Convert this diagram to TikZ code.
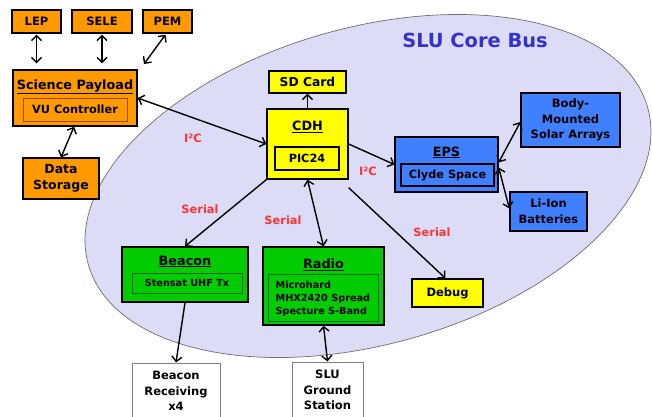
\documentclass[tikz,border=0pt]{standalone}
\usepackage{fontspec}
\setmainfont{DejaVu Sans}
\usetikzlibrary{arrows.meta}
\definecolor{borange}{RGB}{255,153,0}
\definecolor{oranged}{RGB}{150,75,0}
\definecolor{byellow}{RGB}{255,255,0}
\definecolor{bblue}{RGB}{64,128,255}
\definecolor{bgreen}{RGB}{0,204,0}
\definecolor{greend}{RGB}{0,100,0}
\definecolor{busfill}{RGB}{220,220,246}
\definecolor{busline}{RGB}{110,110,110}
\definecolor{lred}{RGB}{255,51,51}
\definecolor{tblue}{RGB}{51,51,204}
\definecolor{gbox}{RGB}{128,128,128}
\begin{document}
\begin{tikzpicture}[x=1bp,y=-1bp,
  box/.style={draw=black, line width=1.3bp, inner sep=0pt, align=center,
    font=\bfseries\fontsize{11.5bp}{15.7bp}\selectfont},
  obox/.style={box, fill=borange},
  ybox/.style={box, fill=byellow},
  bbox/.style={box, fill=bblue},
  gnbox/.style={box, fill=bgreen},
  wbox/.style={box, fill=white, draw=gbox, line width=1bp},
  ttl/.style={inner sep=0pt, anchor=base, font=\bfseries\fontsize{12.8bp}{15bp}\selectfont},
  ibox/.style={draw=black, line width=1.3bp, inner sep=0pt, align=center,
    font=\bfseries\fontsize{11.3bp}{14bp}\selectfont},
  sbox/.style={draw=greend, line width=0.8bp, inner sep=0pt, align=center,
    font=\bfseries\fontsize{9.7bp}{13bp}\selectfont},
  lbl/.style={inner sep=0pt, text=lred, font=\bfseries\fontsize{11.4bp}{13bp}\selectfont},
  conn/.style={line width=1.4bp, -{Straight Barb[length=5bp,width=10bp]}},
  biconn/.style={line width=1.4bp, {Straight Barb[length=5bp,width=10bp]}-{Straight Barb[length=5bp,width=10bp]}}
]
\useasboundingbox (0,0) rectangle (652,416);
\clip (0,0) rectangle (652,416);

% core bus ellipse
\draw[fill=busfill, draw=busline, line width=0.7bp, rotate around={15.65:(368,186)}]
  (368,186) ellipse [x radius=290.5, y radius=158.4];
\node[inner sep=0pt, text=tblue, font=\bfseries\fontsize{19.4bp}{22bp}\selectfont] (bus) at (475,40) {SLU Core Bus};

% payload side
\node[obox, minimum width=49bp, minimum height=23bp] (lep) at (36.5,21.5) {LEP};
\node[obox, minimum width=60bp, minimum height=23bp] (sele) at (102,21.5) {SELE};
\node[obox, minimum width=49bp, minimum height=23bp] (pem) at (167.5,21.5) {PEM};
\node[obox, minimum width=124bp, minimum height=56bp] (sci) at (75,98) {};
\node[ttl] (scit) at (75,89) {\underline{Science Payload}};
\node[ibox, draw=oranged, line width=0.8bp, minimum width=104bp, minimum height=23bp] (vu) at (75,109.5) {VU Controller};
\node[obox, minimum width=76bp, minimum height=41bp, font=\bfseries\fontsize{12.5bp}{16.5bp}\selectfont] (ds) at (61,178.5) {Data\\Storage};

% CDH
\node[ybox, minimum width=77bp, minimum height=22bp, font=\bfseries\fontsize{12.3bp}{15bp}\selectfont] (sd) at (307.5,82) {SD Card};
\node[ybox, minimum width=81bp, minimum height=70bp] (cdh) at (307.5,144) {};
\node[ttl] (cdht) at (307.5,130.7) {\underline{CDH}};
\node[ibox, minimum width=64bp, minimum height=23bp] (pic) at (307,158.5) {PIC24};

% EPS
\node[bbox, minimum width=103bp, minimum height=55bp] (eps) at (446.5,164.5) {};
\node[ttl] (epst) at (446.5,156) {\underline{EPS}};
\node[ibox, minimum width=93bp, minimum height=22bp] (clyde) at (447.5,175) {Clyde Space};
\node[bbox, minimum width=99bp, minimum height=54bp] (solar) at (570.5,120) {Body-\\Mounted\\Solar Arrays};
\node[bbox, minimum width=77bp, minimum height=39bp] (liion) at (548.5,211.5) {Li-Ion\\Batteries};

% comms
\node[gnbox, minimum width=126bp, minimum height=55bp] (beacon) at (185,274.5) {};
\node[ttl] (beacont) at (185,265) {\underline{Beacon}};
\node[sbox, minimum width=110bp, minimum height=20bp] (stensat) at (187,283) {Stensat UHF Tx};
\node[gnbox, minimum width=121bp, minimum height=78bp] (radio) at (323.5,286) {};
\node[ttl] (radiot) at (323.5,268.3) {\underline{Radio}};
\node[sbox, minimum width=110bp, minimum height=47bp] (mhx) at (323,297.5) {};
\node[inner sep=0pt, anchor=base west, align=left, font=\bfseries\fontsize{9.7bp}{13bp}\selectfont] (mhxt) at (275.5,314) {Microhard\\MHX2420 Spread\\Specture S-Band};
\node[ybox, minimum width=71bp, minimum height=28bp] (debug) at (447.5,293) {Debug};

% ground
\node[wbox, minimum width=88bp, minimum height=56bp] (br) at (176,391) {Beacon\\Receiving\\x4};
\node[wbox, minimum width=71bp, minimum height=56bp] (gs) at (327.5,390) {SLU\\Ground\\Station};

% connectors
\coordinate (pemend) at (144,64);
\draw[biconn, shorten <=1bp, shorten >=6bp] (lep.south) -- (lep.south |- sci.north);
\draw[biconn, shorten <=1bp, shorten >=6bp] (sele.south) -- (sele.south |- sci.north);
\draw[biconn] ([xshift=-2bp,yshift=-1bp]pem.south) -- (pemend);
\draw[biconn] ([xshift=-1bp]sci.south) -- (ds.north);
\draw[biconn] (sci.east) -- (cdh.west);
\draw[conn] (cdh.north) -- (sd.south);
\draw[conn] (cdh.east) -- (eps.west);
\draw[biconn] ([yshift=2bp]eps.east) -- ([yshift=-2bp]solar.west);
\draw[biconn] ([yshift=-3bp]eps.east) -- ([yshift=3bp]liion.west);
\draw[conn] (cdh.south west) -- (beacon.north);
\draw[biconn] (cdh.south) -- (radio.north);
\draw[conn] ([yshift=-8bp]cdh.south east) -- ([xshift=-2bp]debug.north);
\draw[conn] (beacon.south) -- (br.north);
\draw[biconn] (radio.south) -- (gs.north);

% labels
\node[lbl] (l1) at (193,138) {I²C};
\node[lbl] (l2) at (368,171.5) {I²C};
\node[lbl] (l3) at (200,209) {Serial};
\node[lbl] (l4) at (283,220) {Serial};
\node[lbl] (l5) at (432,232) {Serial};
\end{tikzpicture}
\end{document}
